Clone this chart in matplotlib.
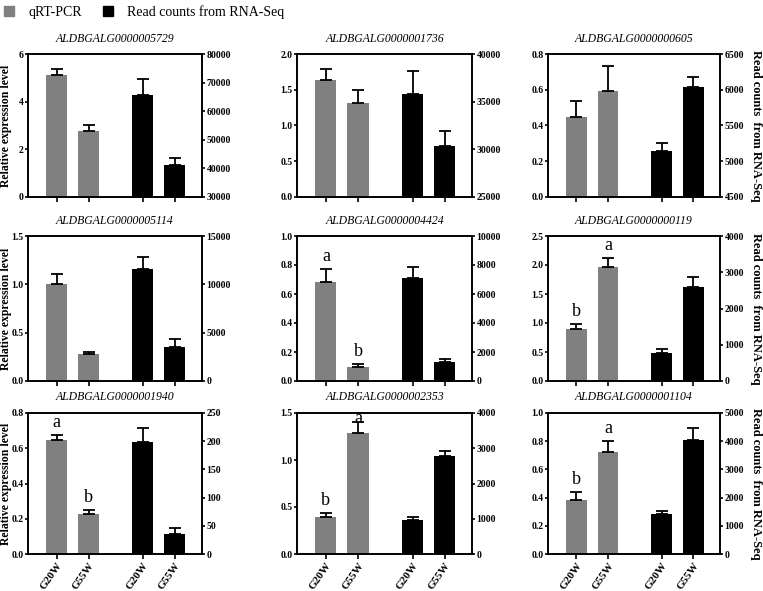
import matplotlib
matplotlib.use('Agg')
import matplotlib.pyplot as plt
from matplotlib.patches import Patch
from matplotlib.ticker import FormatStrFormatter

genes = ['ALDBGALG0000005729', 'ALDBGALG0000001736', 'ALDBGALG0000000605',
         'ALDBGALG0000005114', 'ALDBGALG0000004424', 'ALDBGALG0000000119',
         'ALDBGALG0000001940', 'ALDBGALG0000002353', 'ALDBGALG0000001104']
groups = ['G20W', 'G55W', 'G20W', 'G55W']

qpcr_mean = [[5.12, 2.75], [1.64, 1.31], [0.447, 0.594],
             [1.00, 0.276], [0.686, 0.10], [0.89, 1.97],
             [0.645, 0.227], [0.394, 1.287], [0.383, 0.724]]
qpcr_err = [[0.25, 0.28], [0.15, 0.19], [0.089, 0.137],
            [0.105, 0.024], [0.086, 0.019], [0.10, 0.15],
            [0.033, 0.025], [0.043, 0.112], [0.057, 0.078]]
rnaseq_mean = [[65600, 41200], [35850, 30300], [5137, 6035],
               [11580, 3520], [7090, 1280], [784, 2588],
               [198, 35.8], [973, 2776], [1428, 4048]]
rnaseq_err = [[5600, 2500], [2320, 1620], [116, 139],
              [1290, 840], [745, 233], [100, 273],
              [25, 9.5], [68, 154], [96, 428]]

left_max = [6, 2.0, 0.8, 1.5, 1.0, 2.5, 0.8, 1.5, 1.0]
left_step = [2, 0.5, 0.2, 0.5, 0.2, 0.5, 0.2, 0.5, 0.2]
right_min = [30000, 25000, 4500, 0, 0, 0, 0, 0, 0]
right_max = [80000, 40000, 6500, 15000, 10000, 4000, 250, 4000, 5000]
right_step = [10000, 5000, 500, 5000, 2000, 1000, 50, 1000, 1000]
letters = [None, None, None, None, ['a', 'b'], ['b', 'a'],
           ['a', 'b'], ['b', 'a'], ['b', 'a']]

GRAY = '#808080'
SERIF = 'Liberation Serif'
plt.rcParams['font.family'] = SERIF

W, H = 763, 591
fig = plt.figure(figsize=(W / 100, H / 100), dpi=100)

cols = [(28, 202), (297, 472), (548, 720)]
rows = [(54, 197), (236, 381), (413, 554)]
xpos = [0, 1, 2.7, 3.7]
bw = 0.66
lw = 1.2
PX_PER_PT = 100 / 72

for i, gene in enumerate(genes):
    r, c = divmod(i, 3)
    l, rr = cols[c]
    t, b = rows[r]
    ax = fig.add_axes([l / W, 1 - b / H, (rr - l) / W, (b - t) / H])
    ax2 = ax.twinx()

    ax.bar(xpos[:2], qpcr_mean[i], width=bw, color=GRAY, zorder=2)
    ax.errorbar(xpos[:2], qpcr_mean[i], yerr=[[0, 0], qpcr_err[i]], fmt='none',
                ecolor='black', elinewidth=1.3, capsize=4.5, capthick=1.3, zorder=3)
    ax2.bar(xpos[2:], rnaseq_mean[i], width=bw, color='black', zorder=2)
    ax2.errorbar(xpos[2:], rnaseq_mean[i], yerr=[[0, 0], rnaseq_err[i]], fmt='none',
                 ecolor='black', elinewidth=1.3, capsize=4.5, capthick=1.3, zorder=3)

    ax.set_xlim(-0.9, 4.55)
    ax.set_ylim(0, left_max[i])
    n = int(round(left_max[i] / left_step[i]))
    ax.set_yticks([k * left_step[i] for k in range(n + 1)])
    if i == 0:
        ax.yaxis.set_major_formatter(FormatStrFormatter('%d'))
    else:
        ax.yaxis.set_major_formatter(FormatStrFormatter('%.1f'))
    ax2.set_ylim(right_min[i], right_max[i])
    m = int(round((right_max[i] - right_min[i]) / right_step[i]))
    ax2.set_yticks([right_min[i] + k * right_step[i] for k in range(m + 1)])
    ax2.yaxis.set_major_formatter(FormatStrFormatter('%d'))

    ax.set_xticks(xpos)
    if r == 2:
        ax.set_xticklabels(groups, rotation=55, ha='right', rotation_mode='anchor',
                           fontweight='bold')
    else:
        ax.set_xticklabels([])

    for a in (ax, ax2):
        for s in a.spines.values():
            s.set_linewidth(lw)
        a.tick_params(axis='y', direction='out', length=2.5, width=lw,
                      labelsize=7, pad=0.8)
        a.tick_params(axis='x', direction='out', length=3.5, width=lw, pad=1.5,
                      labelsize=8)
        for lab in a.get_yticklabels():
            lab.set_fontweight('bold')

    ax.set_title(gene, fontstyle='italic', fontsize=8.5, pad=9)

    if letters[i] is not None:
        hpx = b - t
        for x, mval, e, s in zip(xpos[:2], qpcr_mean[i], qpcr_err[i], letters[i]):
            top = mval + e
            gap_px = (1 - top / left_max[i]) * hpx
            off_px = max(-2, min(8, gap_px - 10))
            ax.annotate(s, (x, top), xytext=(0, off_px / PX_PER_PT),
                        textcoords='offset points',
                        ha='center', va='baseline', fontsize=13)

    if c == 0:
        ax.set_ylabel('Relative expression level', fontweight='bold', fontsize=8.5,
                      va='center')
        ax.yaxis.set_label_coords((6 - l) / (rr - l), 0.5)
    if c == 2:
        ax2.set_ylabel('Read counts  from RNA-Seq', fontweight='bold', fontsize=9,
                       rotation=-90, va='center')
        ax2.yaxis.set_label_coords((756 - l) / (rr - l), 0.5)

handles = [Patch(color=GRAY, label='qRT-PCR'),
           Patch(color='black', label='Read counts from RNA-Seq')]
fig.legend(handles=handles, loc='upper left', bbox_to_anchor=(4 / W, 1 - 5 / H), ncol=2,
           frameon=False, fontsize=10, handlelength=0.75, handleheight=0.65,
           columnspacing=1.5, handletextpad=1.0, borderpad=0, borderaxespad=0)

fig.savefig('out.png', dpi=100)
